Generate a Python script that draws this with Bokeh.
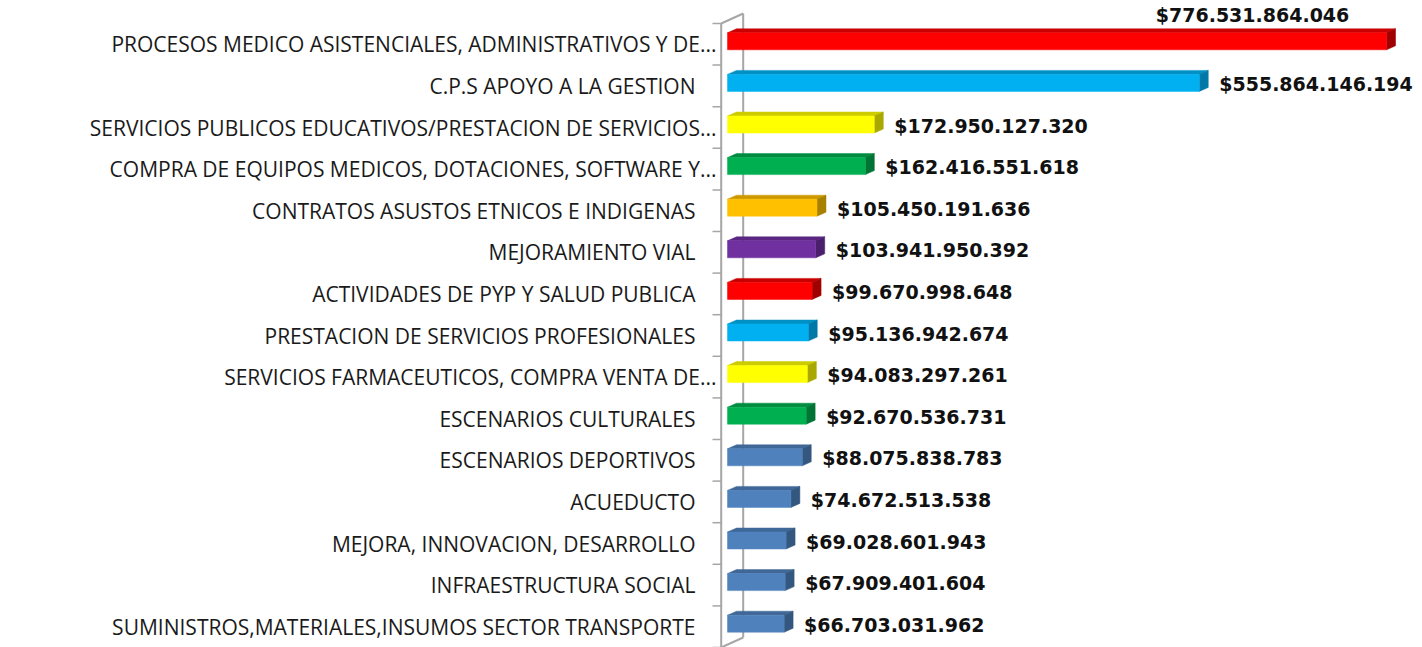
from bokeh.plotting import figure
from bokeh.models import Range1d, ColumnDataSource
from bokeh.core.properties import value
from bokeh.embed import file_html
from bokeh.resources import INLINE

# ---- data (top to bottom) ----
categories = [
    "PROCESOS MEDICO ASISTENCIALES, ADMINISTRATIVOS Y DE...",
    "C.P.S APOYO A LA GESTION",
    "SERVICIOS PUBLICOS EDUCATIVOS/PRESTACION DE SERVICIOS...",
    "COMPRA DE EQUIPOS MEDICOS, DOTACIONES, SOFTWARE Y...",
    "CONTRATOS ASUSTOS ETNICOS E INDIGENAS",
    "MEJORAMIENTO VIAL",
    "ACTIVIDADES DE PYP Y SALUD PUBLICA",
    "PRESTACION DE SERVICIOS PROFESIONALES",
    "SERVICIOS FARMACEUTICOS, COMPRA VENTA DE...",
    "ESCENARIOS CULTURALES",
    "ESCENARIOS DEPORTIVOS",
    "ACUEDUCTO",
    "MEJORA, INNOVACION, DESARROLLO",
    "INFRAESTRUCTURA SOCIAL",
    "SUMINISTROS,MATERIALES,INSUMOS SECTOR TRANSPORTE",
]
values = [
    776531864046, 555864146194, 172950127320, 162416551618, 105450191636,
    103941950392, 99670998648, 95136942674, 94083297261, 92670536731,
    88075838783, 74672513538, 69028601943, 67909401604, 66703031962,
]

# ---- styles ----
FRONT = ["#FF0000", "#00B0F0", "#FFFF00", "#00B050", "#FFC000", "#7030A0", "#FF0000",
         "#00B0F0", "#FFFF00", "#00B050", "#4F81BD", "#4F81BD", "#4F81BD", "#4F81BD", "#4F81BD"]
TOP = ["#C80000", "#0090C4", "#CCCC00", "#008C40", "#CC9A00", "#5A2682", "#C80000",
       "#0090C4", "#CCCC00", "#008C40", "#3F6898", "#3F6898", "#3F6898", "#3F6898", "#3F6898"]
SIDE = ["#A00000", "#0078A8", "#A8A800", "#007434", "#A88000", "#4A1F6C", "#A00000",
        "#0078A8", "#A8A800", "#007434", "#34577F", "#34577F", "#34577F", "#34577F", "#34577F"]

W, H = 1422, 647
PX_PER_B = 0.8487          # pixels per 1e9
ROW = 41.6                 # pixels per category
X0_PX = 727                # value 0 position in pixels
Y0_PX = 23                 # top of first category row in pixels

x_start = -X0_PX / PX_PER_B
x_end = (W - X0_PX) / PX_PER_B
y_top = -Y0_PX / ROW - 0.5
y_bot = (H - Y0_PX) / ROW - 0.5

p = figure(width=W, height=H, x_range=Range1d(x_start, x_end),
           y_range=Range1d(y_bot, y_top), x_axis_type=None, y_axis_type=None,
           min_border=0, toolbar_location=None, output_backend="svg")
p.grid.visible = False
p.outline_line_color = None
p.background_fill_color = "white"
p.border_fill_color = "white"

px = 1 / PX_PER_B          # data units per horizontal pixel
py = 1 / ROW               # data units per vertical pixel

n = len(categories)
ks = list(range(n))
vb = [v / 1e9 for v in values]

# ---- axis wall (drawn first, behind bars) ----
wall_col = "#A6A6A6"
fx, bx = -6.3 * px, 15.7 * px
p.line([fx, fx], [-0.5, n - 0.5], line_color=wall_col, line_width=2)
p.line([bx, bx], [-0.5 - 10 * py, n - 0.5 - 10 * py], line_color=wall_col, line_width=2)
p.line([fx, bx], [-0.5, -0.5 - 10 * py], line_color=wall_col, line_width=2)
p.line([fx, bx], [n - 0.5, n - 0.5 - 10 * py], line_color=wall_col, line_width=2)
p.segment(x0=[-15 * px] * (n + 1), x1=[fx] * (n + 1),
          y0=[j - 0.5 for j in range(n + 1)], y1=[j - 0.5 for j in range(n + 1)],
          line_color=wall_col, line_width=1.5)

# ---- 3D bars ----
dx, dy = 9 * px, -4 * py
tops = [k - 11.5 * py for k in ks]
bots = [k + 5.5 * py for k in ks]

top_xs = [[0, v, v + dx, dx] for v in vb]
top_ys = [[t, t, t + dy, t + dy] for t in tops]
side_xs = [[v, v + dx, v + dx, v] for v in vb]
side_ys = [[t, t + dy, b + dy, b] for t, b in zip(tops, bots)]

p.patches(top_xs, top_ys, fill_color=TOP, line_color=TOP, line_width=0.5)
p.patches(side_xs, side_ys, fill_color=SIDE, line_color=SIDE, line_width=0.5)
p.quad(left=[0] * n, right=vb, top=tops, bottom=bots,
       fill_color=FRONT, line_color=FRONT, line_width=0.5)

# ---- category labels ----
lab_src = ColumnDataSource(dict(
    x=[0] * n, y=ks, text=categories,
    xo=[-11 if c.endswith("...") else -32 for c in categories],
))
p.text(x="x", y="y", text="text", x_offset="xo", source=lab_src,
       text_font=value("Open Sans"), text_font_size="21px", text_color="#1a1a1a",
       text_align="right", text_baseline="middle")

# ---- value labels ----
val_text = ["$" + f"{v:,}".replace(",", ".") for v in values]
outside = [True] + [False] * (n - 1)   # first label sits above its bar
val_src = ColumnDataSource(dict(
    x=vb, y=ks, text=val_text,
    xo=[-134 if o else 20 for o in outside],
    yo=[-29 if o else -2 for o in outside],
    al=["center" if o else "left" for o in outside],
))
p.text(x="x", y="y", text="text", x_offset="xo", y_offset="yo", text_align="al",
       source=val_src, text_font=value("DejaVu Sans"), text_font_style="bold",
       text_font_size="19px", text_color="#111111", text_baseline="middle")

open("out.html", "w").write(file_html(p, INLINE))
